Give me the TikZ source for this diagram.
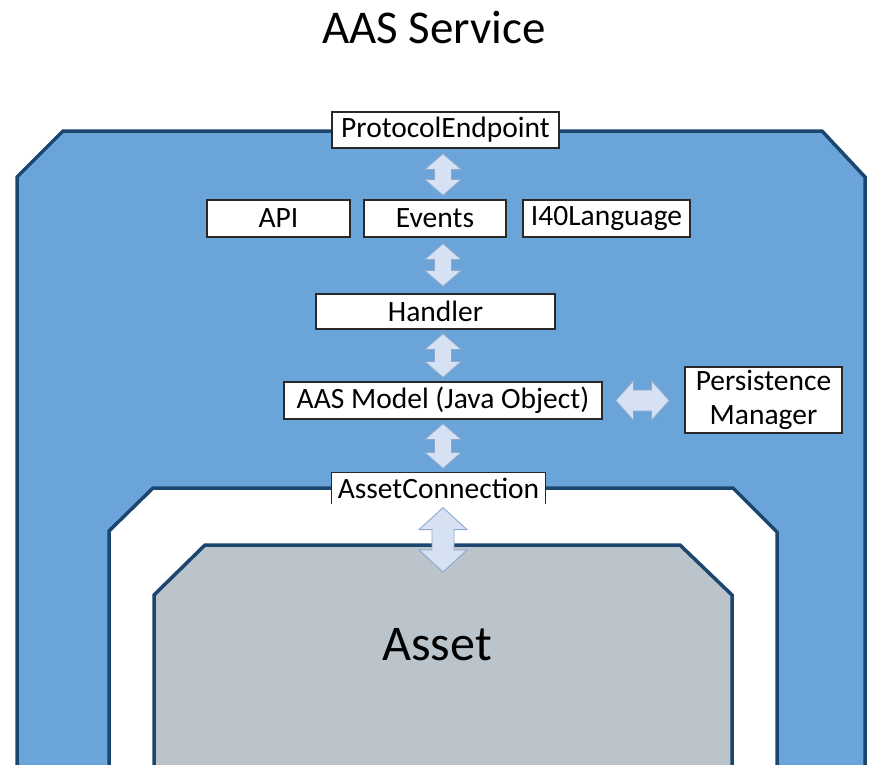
\documentclass[tikz,border=0pt]{standalone}
\usepackage{fontspec}
\setmainfont{Carlito}
\usetikzlibrary{calc}
\definecolor{svcblue}{RGB}{106,164,216}
\definecolor{edgeblue}{RGB}{26,70,112}
\definecolor{assetgray}{RGB}{186,196,202}
\definecolor{arrfill}{RGB}{214,226,243}
\definecolor{arredge}{RGB}{140,168,206}
\definecolor{boxedge}{RGB}{40,40,40}
\newcommand{\vdarrow}[5]{% #1 top tip, #2 bottom tip, #3 head half width, #4 shaft half width, #5 head length
 \draw[arr] let \p1=(#1), \p2=(#2) in
 (\x1,\y1) -- (\x1+#3pt,\y1-#5pt) -- (\x1+#4pt,\y1-#5pt) -- (\x1+#4pt,\y2+#5pt) -- (\x1+#3pt,\y2+#5pt) -- (\x1,\y2)
 -- (\x1-#3pt,\y2+#5pt) -- (\x1-#4pt,\y2+#5pt) -- (\x1-#4pt,\y1-#5pt) -- (\x1-#3pt,\y1-#5pt) -- cycle;}
\newcommand{\hdarrow}[5]{% #1 left tip, #2 right tip
 \draw[arr] let \p1=(#1), \p2=(#2) in
 (\x1,\y1) -- (\x1+#5pt,\y1+#3pt) -- (\x1+#5pt,\y1+#4pt) -- (\x2-#5pt,\y1+#4pt) -- (\x2-#5pt,\y1+#3pt) -- (\x2,\y1)
 -- (\x2-#5pt,\y1-#3pt) -- (\x2-#5pt,\y1-#4pt) -- (\x1+#5pt,\y1-#4pt) -- (\x1+#5pt,\y1-#3pt) -- cycle;}
\begin{document}
\begin{tikzpicture}[x=1pt,y=-1pt,
  box/.style={draw=boxedge, line width=1.3pt, fill=white, inner sep=0pt,
    font=\fontsize{29.5}{34}\selectfont, align=center},
  arr/.style={fill=arrfill, draw=arredge, line width=0.9pt, line join=miter},
  wall/.style={draw=edgeblue, line width=3.5pt, line join=miter}]
\useasboundingbox (0,0) rectangle (870,764);
\begin{scope}
\clip (0,0) rectangle (870,764);
\draw[wall, fill=svcblue] (17,800) -- (17,177) -- (63,131) -- (822,131) -- (865,177) -- (865,800);
\draw[wall, fill=white] (109,800) -- (109,531) -- (153,488) -- (733,488) -- (777,532) -- (777,800);
\draw[wall, fill=assetgray] (154,800) -- (154,595) -- (205,545) -- (680,545) -- (732,595) -- (732,800);
\end{scope}

\node[font=\fontsize{47}{50}\selectfont] (title) at (434,27) {AAS Service};
\node[font=\fontsize{50}{54}\selectfont] (asset) at (437,645) {Asset};

\node[box, minimum width=227, minimum height=36] (pe) at (445.5,130) {ProtocolEndpoint};
\node[box, minimum width=143, minimum height=37] (api) at (278.5,218.5) {API};
\node[box, minimum width=142, minimum height=37] (ev) at (435,218.5) {Events};
\node[box, minimum width=167, minimum height=37] (i40) at (606.5,218.5) {I40Language};
\node[box, minimum width=239, minimum height=35] (hd) at (435.5,311.5) {Handler};
\node[box, minimum width=318, minimum height=37] (am) at (443,400.5) {AAS Model (Java Object)};
\node[box, minimum width=157, minimum height=66] (pm) at (763.5,400) {Persistence\\Manager};
\node[box, draw=none, minimum width=213, minimum height=30] (ac) at (438.5,488) {AssetConnection};
\draw[draw=boxedge, line width=1.3pt] (ac.south west) -- (ac.north west) -- (ac.north east) -- (ac.south east);

\coordinate (a1t) at ($(am.center |- pe.south)+(0,5)$);
\coordinate (a1b) at ($(am.center |- ev.north)+(0,-4)$);
\coordinate (a2t) at ($(am.center |- ev.south)+(0,6)$);
\coordinate (a2b) at ($(am.center |- hd.north)+(0,-7)$);
\coordinate (a3t) at ($(am.center |- hd.south)+(0,4)$);
\coordinate (a3b) at ($(am.center |- am.north)+(0,-4)$);
\coordinate (a4t) at ($(am.center |- am.south)+(0,4)$);
\coordinate (a4b) at ($(am.center |- ac.north)+(0,-4)$);
\coordinate (a5t) at ($(am.center |- ac.south)+(0,4)$);
\coordinate (a5b) at (am.center |- 0,572);
\coordinate (hl) at ($(am.east)+(13,0)$);
\coordinate (hr) at ($(pm.west |- am.east)+(-15,0)$);

\vdarrow{a1t}{a1b}{18.5}{8.5}{16}
\vdarrow{a2t}{a2b}{18.5}{8.5}{16}
\vdarrow{a3t}{a3b}{18.5}{8.5}{16}
\vdarrow{a4t}{a4b}{18.5}{8.5}{16}
\vdarrow{a5t}{a5b}{24}{11}{22}
\hdarrow{hl}{hr}{20}{10.5}{18}
\end{tikzpicture}
\end{document}
